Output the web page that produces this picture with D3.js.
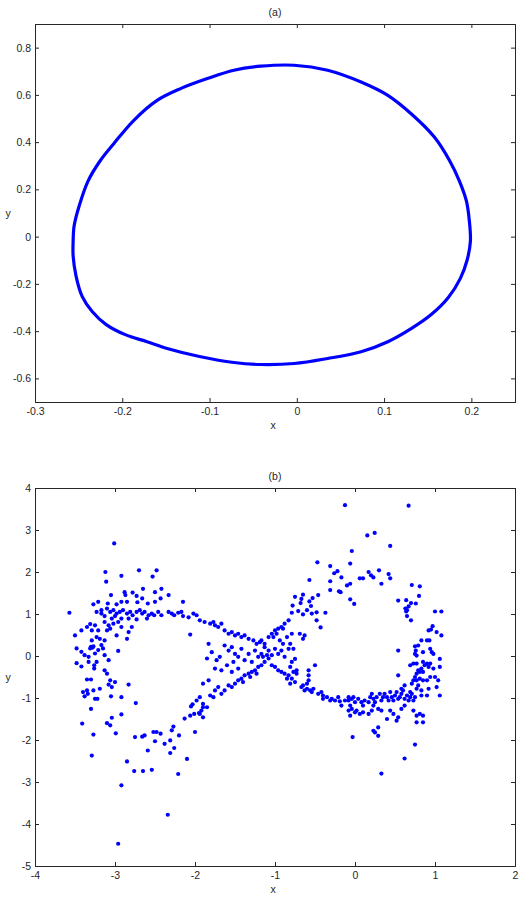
<!DOCTYPE html>
<html>
<head>
<meta charset="utf-8">
<script src="https://cdn.jsdelivr.net/npm/d3@7"></script>
<style>
  body { margin: 0; background: #fff; }
  svg { display: block; font-family: "Liberation Sans", Arial, sans-serif; }
</style>
</head>
<body>
<svg id="chart"></svg>
<script>
const width = 521;
const height = 911;
const marginLeft = 35;
const marginRight = 6;

// panel (a): closed orbit
const loopX = [-0.2563, -0.2563, -0.2529, -0.246, -0.2345, -0.2184, -0.1966, -0.1716, -0.1486, -0.1103,
  -0.0721, -0.0414, -0.0031, 0.0353, 0.0736, 0.1043, 0.131, 0.154, 0.1736, 0.1874,
  0.1954, 0.1989, 0.1977, 0.1943, 0.1862, 0.1751, 0.1578, 0.131, 0.1043, 0.0736,
  0.0353, -0.0031, -0.0414, -0.0721, -0.1026, -0.1333, -0.1601, -0.187, -0.21, -0.2253,
  -0.2391, -0.2494, -0.2552];
const loopY = [-0.019, -0.083, -0.168, -0.253, -0.317, -0.3723, -0.4149, -0.4447, -0.4732, -0.5085,
  -0.5328, -0.5413, -0.537, -0.5157, -0.4872, -0.4447, -0.3894, -0.3298, -0.2574, -0.1766,
  -0.0957, -0.0191, 0.066, 0.151, 0.2362, 0.3213, 0.4204, 0.52, 0.5979, 0.6545,
  0.7043, 0.7255, 0.7213, 0.7043, 0.6689, 0.6264, 0.5766, 0.4915, 0.3923, 0.3213,
  0.2362, 0.1298, 0.0447];
const ticksAX = [-0.3, -0.2, -0.1, 0, 0.1, 0.2];
const ticksAY = [-0.6, -0.4, -0.2, 0, 0.2, 0.4, 0.6, 0.8];

// panel (b): scattered points [x, y]
const pointsB = [
  // left lobe, upper part
  [-3.01,2.68],[-3.57,1.03],[-3.12,2.0],[-3.11,1.77],[-2.92,1.91],[-2.70,2.04],[-2.48,2.04],[-2.53,1.89],
  [-2.65,1.60],[-2.42,1.60],[-2.50,1.52],[-2.33,1.45],[-2.88,1.52],[-2.87,1.45],[-2.78,1.51],[-2.73,1.43],
  [-3.05,1.45],[-3.21,1.29],[-3.27,1.23],[-3.09,1.25],[-2.98,1.23],[-2.92,1.29],[-2.85,1.29],[-2.72,1.28],
  [-2.66,1.37],[-2.59,1.25],[-2.50,1.29],[-2.43,1.37],[-2.15,1.29],
  [-3.23,1.05],[-3.17,1.09],[-3.10,1.13],[-3.06,1.05],[-3.02,1.09],[-2.98,1.01],[-2.94,1.05],[-2.90,1.09],
  [-2.85,1.01],[-2.81,1.05],[-2.78,0.97],[-2.73,1.05],[-2.69,1.09],[-2.66,1.01],[-2.63,1.05],[-2.58,0.97],
  [-2.54,1.01],[-2.51,0.97],[-2.46,1.05],[-2.42,0.97],[-2.33,1.05],[-2.29,1.01],[-2.26,0.97],[-2.21,1.03],
  [-2.17,1.05],[-2.15,0.95],[-2.08,0.92],[-2.02,1.01],
  [-2.73,0.87],[-2.60,0.89],[-2.83,0.89],[-2.92,0.89],[-3.17,1.01],[-3.13,0.95],[-3.04,0.89],[-3.0,0.95],
  [-2.06,0.51],[-3.42,0.61],[-3.35,0.69],[-3.31,0.76],[-3.50,0.49],[-3.29,0.61],[-3.25,0.73],[-3.21,0.61],
  [-3.13,0.81],[-3.08,0.73],[-3.10,0.61],[-3.06,0.65],[-3.02,0.77],[-2.96,0.81],[-2.92,0.69],[-2.98,0.49],
  [-2.85,0.41],[-2.83,0.57],[-2.79,0.69],[-3.29,0.37],[-3.23,0.45],[-3.19,0.41],[-3.13,0.37],
  [-3.30,0.22],[-3.28,0.20],[-3.27,0.23],[-3.31,0.18],[-3.17,0.26],[-3.15,0.18],[-3.21,0.14],
  [-3.48,0.18],[-3.42,0.10],[-3.38,0.02],[-3.33,-0.02],[-3.25,0.06],[-3.13,0.02],[-2.96,0.12],
  // left lobe, lower part
  [-3.48,-0.17],[-3.42,-0.25],[-3.33,-0.14],[-3.26,-0.22],[-3.26,-0.30],[-3.23,-0.14],[-3.08,-0.10],
  [-3.13,-0.34],[-3.10,-0.42],[-3.35,-0.56],[-3.30,-0.56],[-3.06,-0.58],[-3.08,-0.68],[-3.0,-0.62],
  [-3.04,-0.74],[-2.83,-0.68],[-3.40,-0.86],[-3.35,-0.82],[-3.38,-0.96],[-3.34,-0.90],[-3.27,-0.82],
  [-3.19,-0.78],[-3.25,-1.02],[-3.22,-1.02],[-3.05,-0.96],[-2.92,-0.98],[-2.74,-1.12],[-3.30,-1.26],
  [-3.41,-1.61],[-3.27,-1.87],[-3.29,-2.37],[-3.10,-1.60],[-3.06,-1.65],[-3.04,-1.47],[-2.92,-1.39],
  [-2.99,-1.84],[-2.85,-2.51],[-2.75,-1.93],[-2.66,-1.92],[-2.63,-1.89],[-2.59,-2.25],[-2.52,-1.81],
  [-2.48,-1.81],[-2.43,-1.85],[-2.50,-2.03],[-2.76,-2.74],[-2.65,-2.74],[-2.54,-2.71],[-2.38,-2.09],
  [-2.31,-2.01],[-2.27,-1.68],[-2.29,-1.77],[-2.31,-2.31],[-2.26,-2.19],[-2.20,-1.89],[-2.10,-2.45],
  [-2.21,-2.81],[-2.13,-1.49],[-2.06,-1.42],[-2.01,-1.38],[-2.0,-1.81],[-2.05,-1.20],[-2.03,-1.15],
  [-1.95,-1.36],[-1.90,-1.22],[-2.92,-3.08],[-2.34,-3.78],[-2.96,-4.47],
  // centre crossing
  [-1.98,0.97],[-1.94,0.85],[-1.88,0.81],[-1.81,0.77],[-1.77,0.81],[-1.75,0.73],[-1.71,0.69],[-1.67,0.77],
  [-1.63,0.61],[-1.58,0.53],[-1.54,0.57],[-1.50,0.49],[-1.46,0.53],[-1.42,0.45],[-1.38,0.49],[-1.33,0.41],
  [-1.27,0.37],[-1.23,0.29],[-1.19,0.33],
  [-1.98,-1.06],[-1.94,-0.98],[-1.90,-1.14],[-1.85,-1.22],[-1.81,-0.94],[-1.77,-0.98],[-1.75,-0.82],
  [-1.71,-0.74],[-1.67,-0.90],[-1.63,-0.82],[-1.58,-0.70],[-1.54,-0.74],[-1.50,-0.66],[-1.46,-0.58],
  [-1.42,-0.54],[-1.38,-0.46],[-1.33,-0.42],[-1.29,-0.38],[-1.25,-0.34],[-1.21,-0.26],[-1.17,-0.22],
  [-1.13,-0.14],[-1.08,-0.06],[-1.31,-0.50],[-1.40,-0.62],[-1.23,-0.42],
  [-1.08,0.45],[-1.04,0.53],[-1.0,0.61],[-0.96,0.65],[-0.92,0.69],[-0.88,0.77],[-0.83,0.85],
  [-0.98,0.53],[-1.02,0.45],[-0.90,0.65],
  [-1.0,-0.26],[-0.96,-0.34],[-0.92,-0.38],[-0.88,-0.42],[-0.83,-0.46],[-1.04,-0.22],[-0.85,-0.54],
  [-1.58,0.13],[-1.54,0.21],[-1.50,0.05],[-1.46,-0.02],[-1.42,0.17],[-1.38,-0.10],[-1.33,0.05],
  [-1.29,-0.14],[-1.25,0.13],[-1.21,-0.02],[-1.17,0.05],[-1.13,0.21],[-1.08,0.13],[-1.04,0.02],
  [-1.0,0.17],[-0.96,0.05],[-0.92,0.13],[-0.88,-0.02],[-0.83,0.17],[-0.94,0.37],[-0.90,0.29],
  [-0.85,0.45],[-1.83,0.29],[-1.79,0.09],[-1.73,-0.10],[-1.69,-0.02],[-1.63,0.25],[-1.85,-0.06],
  [-1.90,-0.66],[-1.83,-0.58],[-1.75,-0.30],[-1.67,-0.34],[-1.60,-0.22],[-1.54,-0.38],[-1.46,-0.30],
  [-1.52,-0.14],[-1.90,-1.46],[-1.92,-1.30],[-1.94,-1.38],[-1.17,0.37],[-1.13,0.29],[-1.15,-0.02],
  [-1.10,0.02],
  // upper right
  [-0.125,3.59],[0.67,3.58],[0.154,2.87],[0.246,2.93],[0.44,2.62],[-0.04,2.50],[-0.47,2.23],[-0.06,2.20],
  [-0.31,2.14],[-0.26,1.97],[-0.22,2.02],[-0.17,1.87],[0.17,2.00],[0.20,1.92],[0.23,1.87],[0.30,2.04],
  [0.42,1.95],[0.44,1.85],[0.06,1.85],[0.10,1.85],[-0.57,1.81],[-0.31,1.78],[-0.10,1.68],[-0.06,1.72],
  [0.33,1.72],[0.71,1.69],[0.81,1.66],[-0.31,1.57],[-0.20,1.54],[-0.18,1.52],[0.80,1.43],[-0.46,1.45],
  [-0.75,1.41],[-0.65,1.46],[-0.53,1.38],[-0.67,1.36],[-0.06,1.35],[-0.01,1.24],[0.54,1.32],[0.64,1.33],
  [0.70,1.26],[0.76,1.25],[0.67,1.18],[-0.78,1.20],[-0.68,1.26],[-0.57,1.30],[-0.55,1.19],[-0.71,1.07],
  [-0.60,1.09],[-0.65,0.99],[-0.54,1.01],[-0.48,1.04],[-0.37,1.03],[-0.79,1.03],[-0.48,0.85],[-0.43,0.68],
  [0.63,1.13],[0.64,1.06],[0.65,1.09],[0.65,0.95],[0.70,0.85],[1.00,1.06],[1.08,1.06],[0.97,0.71],
  [0.95,0.63],[0.92,0.61],
  // lower right
  [-0.79,0.53],[-0.69,0.53],[-0.63,0.49],[-0.65,0.41],[-0.81,0.29],[-0.77,0.17],[-0.75,-0.07],[-0.79,-0.14],
  [-0.81,-0.26],[-0.77,-0.38],[-0.73,-0.34],[-0.73,-0.42],[-0.79,-0.54],[-0.75,-0.62],[-0.81,-0.66],
  [-0.58,-0.34],[-0.58,-0.46],[-0.58,-0.58],[-0.60,-0.66],[-0.50,-0.22],[-0.65,-0.70],[-0.67,-0.74],
  [-0.60,-0.78],[-0.63,-0.82],[-0.56,-0.82],[-0.52,-0.78],[-0.54,-0.86],
  [-0.46,-0.90],[-0.42,-0.86],[-0.40,-0.94],[-0.40,-1.02],[-0.35,-0.98],[-0.31,-1.06],[-0.29,-1.02],
  [-0.25,-1.06],[-0.21,-0.98],[-0.19,-1.08],[-0.17,-1.18],[-0.125,-1.06],[-0.08,-0.98],[-0.08,-1.06],
  [-0.06,-1.18],[-0.04,-1.02],[0.0,-1.10],[-0.02,-0.98],[0.02,-1.30],[0.04,-1.02],[0.08,-1.10],[0.10,-1.18],
  [0.12,-1.06],[0.17,-1.10],[0.19,-0.98],[0.21,-0.90],[0.23,-1.02],[0.25,-1.10],[0.27,-0.98],[0.31,-0.90],
  [0.33,-1.06],[0.35,-0.98],[0.37,-0.90],[0.40,-0.98],[0.42,-1.06],[0.44,-0.86],[0.46,-0.98],[0.48,-1.06],
  [0.50,-0.94],[0.52,-0.86],[0.54,-1.02],[0.56,-0.98],[0.58,-0.90],[0.60,-0.82],[0.62,-1.02],[0.65,-0.94],
  [0.67,-1.06],[0.69,-0.98],[0.71,-0.90],[0.73,-1.06],[0.75,-0.98],[0.58,-0.78],[0.62,-0.70],[0.69,-0.86],
  [-0.08,-1.30],[-0.04,-1.26],[0.0,-1.34],[-0.06,-1.42],[0.06,-1.38],[0.10,-1.34],[0.17,-1.38],[0.21,-1.30],
  [0.23,-1.18],[0.29,-1.26],[0.33,-1.30],[0.40,-1.50],[0.44,-1.30],[0.48,-1.38],[0.52,-1.54],[0.54,-1.46],
  [0.58,-1.26],[0.62,-1.18],[0.73,-1.30],[0.77,-1.42],[0.81,-1.38],[0.85,-1.42],[0.77,-1.58],[0.85,-1.58],
  [0.23,-1.78],[0.25,-1.82],[0.29,-1.70],[0.29,-1.90],[-0.03,-1.93],[0.75,-2.11],[0.62,-2.44],[0.33,-2.80],
  [0.54,0.13],[0.75,0.23],[0.79,0.25],[0.76,0.13],[0.75,0.05],[0.77,0.01],[0.83,0.37],[0.90,0.37],
  [0.93,0.37],[1.02,0.57],[1.08,0.49],[0.85,0.09],[0.94,0.17],[0.98,0.05],[0.96,0.09],[0.69,-0.22],
  [0.73,-0.18],[0.77,-0.18],[0.85,-0.14],[0.87,-0.22],[0.90,-0.18],[0.92,-0.26],[0.94,-0.18],[0.83,-0.30],
  [0.79,-0.34],[0.77,-0.42],[0.81,-0.38],[0.85,-0.38],[0.98,-0.30],[1.06,-0.07],[1.06,-0.26],[0.75,-0.50],
  [0.73,-0.58],[0.77,-0.58],[0.81,-0.54],[0.71,-0.66],[0.79,-0.70],[0.85,-0.58],[0.90,-0.58],[0.94,-0.50],
  [1.0,-0.50],[1.04,-0.58],[1.02,-0.74],[0.92,-0.78],[0.83,-0.82],[0.77,-0.78],[0.90,-0.94],[0.83,-0.94],
  [1.06,-0.94],[0.54,-0.46]
];
const ticksBX = [-4, -3, -2, -1, 0, 1, 2];
const ticksBY = [-5, -4, -3, -2, -1, 0, 1, 2, 3, 4];

const blue = "#0000ff";
const ink = "#262626";

const svg = d3.select("#chart").attr("width", width).attr("height", height);

// plain labels with an ASCII hyphen, as in the original plot
const fmt = (d) => String(d);

// draw the frame of one panel: axes on all four sides, ticks pointing in
function drawFrame(x, y, top, bottom, tx, ty, title) {
  svg.append("g")
    .attr("transform", `translate(0,${bottom})`)
    .call(d3.axisBottom(x).tickValues(tx).tickSize(-4).tickPadding(6).tickFormat(fmt));
  svg.append("g")
    .attr("transform", `translate(0,${top})`)
    .call(d3.axisTop(x).tickValues(tx).tickSize(-4).tickFormat(""));
  svg.append("g")
    .attr("transform", `translate(${marginLeft},0)`)
    .call(d3.axisLeft(y).tickValues(ty).tickSize(-4).tickPadding(4).tickFormat(fmt));
  svg.append("g")
    .attr("transform", `translate(${width - marginRight},0)`)
    .call(d3.axisRight(y).tickValues(ty).tickSize(-4).tickFormat(""));

  svg.selectAll(".domain").attr("stroke", ink);
  svg.selectAll(".tick line").attr("stroke", ink);
  svg.selectAll(".tick text").attr("fill", ink).style("font-size", "10.5px")
    .style("font-family", "'Liberation Sans', Arial, sans-serif");

  const cx = (marginLeft + width - marginRight) / 2;
  svg.append("text")
    .attr("x", cx).attr("y", top - 8)
    .attr("text-anchor", "middle").attr("font-size", "10.5px").attr("fill", ink)
    .text(title);
  svg.append("text")
    .attr("x", cx - 2).attr("y", bottom + 27)
    .attr("text-anchor", "middle").attr("font-size", "10.5px").attr("fill", ink)
    .text("x");
  svg.append("text")
    .attr("x", 8).attr("y", (top + bottom) / 2 + 4)
    .attr("text-anchor", "middle").attr("font-size", "10.5px").attr("fill", ink)
    .text("y");
}

// ---- panel (a) ----
const topA = 24, bottomA = 402;
const xA = d3.scaleLinear().domain([-0.3, 0.25]).range([marginLeft, width - marginRight]);
const yA = d3.scaleLinear().domain([-0.7, 0.9]).range([bottomA, topA]);

const loop = loopX.map((v, i) => [v, loopY[i]]);
svg.append("path")
  .datum(loop)
  .attr("fill", "none")
  .attr("stroke", blue)
  .attr("stroke-width", 3.2)
  .attr("d", d3.line().x((d) => xA(d[0])).y((d) => yA(d[1])).curve(d3.curveCatmullRomClosed));

drawFrame(xA, yA, topA, bottomA, ticksAX, ticksAY, "(a)");

// ---- panel (b) ----
const topB = 488, bottomB = 866;
const xB = d3.scaleLinear().domain([-4, 2]).range([marginLeft, width - marginRight]);
const yB = d3.scaleLinear().domain([-5, 4]).range([bottomB, topB]);

svg.append("g")
  .selectAll("circle")
  .data(pointsB)
  .join("circle")
  .attr("cx", (d) => xB(d[0]))
  .attr("cy", (d) => yB(d[1]))
  .attr("r", 2.1)
  .attr("fill", blue);

drawFrame(xB, yB, topB, bottomB, ticksBX, ticksBY, "(b)");
</script>
</body>
</html>
